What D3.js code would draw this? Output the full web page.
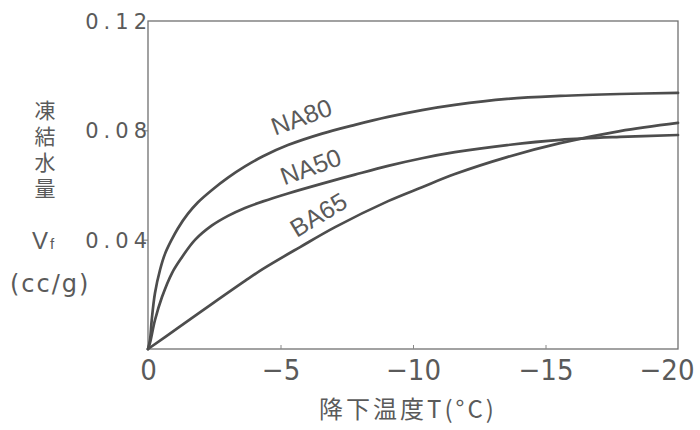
<!DOCTYPE html>
<html><head><meta charset="utf-8">
<script src="https://cdn.jsdelivr.net/npm/d3@7"></script>
<style>body{margin:0;background:#fff}svg{display:block}</style>
</head><body>
<svg id="c" width="700" height="430"></svg>
<script>
const xTicks = [0, -5, -10, -15, -20];
const xTickLabels = ["0", "\u22125", "\u221210", "\u221215", "\u221220"];
const yTicks = [0.04, 0.08, 0.12];
const yTickLabels = ["0.04", "0.08", "0.12"];
const seriesNames = ["NA80", "NA50", "BA65"];
const na80T = [0, -0.075, -0.14, -0.264, -0.453, -0.642, -0.894, -1.132, -1.509, -1.887, -2.415, -3.019, -3.66, -4.34, -5.28, -6.57, -7.81, -9.06, -10.34, -11.58, -13.55, -15.55, -17.81, -20];
const na80V = [0, 0.0033, 0.0106, 0.0205, 0.0289, 0.0348, 0.0400, 0.0442, 0.0495, 0.0537, 0.0582, 0.0627, 0.0668, 0.0705, 0.0746, 0.0788, 0.0820, 0.0849, 0.0874, 0.0893, 0.0915, 0.0926, 0.0933, 0.0937];
const na50T = [0, -0.075, -0.264, -0.528, -0.906, -1.283, -1.774, -2.415, -3.019, -3.66, -4.34, -5.28, -6.57, -7.81, -9.06, -10.34, -11.58, -13.55, -15.55, -17.81, -20];
const na50V = [0, 0.0022, 0.0106, 0.0190, 0.0278, 0.0336, 0.0399, 0.0452, 0.0487, 0.0516, 0.0540, 0.0569, 0.0605, 0.0638, 0.0670, 0.0698, 0.0720, 0.0746, 0.0765, 0.0776, 0.0783];
const ba65T = [0, -1.132, -2.415, -3.66, -4.34, -5.74, -7.06, -9.06, -10.34, -11.58, -13.55, -15.55, -17.81, -20];
const ba65V = [0, 0.0077, 0.0165, 0.0249, 0.0293, 0.0373, 0.0446, 0.0541, 0.0592, 0.0640, 0.0702, 0.0753, 0.0797, 0.0827];

const svg = d3.select("#c");
const L = 148, R = 678, T = 21, B = 349;
const x = d3.scaleLinear().domain([0, -20]).range([L, R]);
const y = d3.scaleLinear().domain([0, 0.12]).range([B, T]);
const ink = "#4d4d4d", txt = "#5a5a5a";
const fnum = "'Liberation Sans Narrow','DejaVu Sans Condensed','Liberation Sans',sans-serif";

// frame
svg.append("rect").attr("x", L).attr("y", T).attr("width", R - L).attr("height", B - T)
  .attr("fill", "none").attr("stroke", "#707070").attr("stroke-width", 1.3);

// x axis ticks (inside, small)
const xa = svg.append("g").attr("transform", `translate(0,${B})`)
  .call(d3.axisBottom(x).tickValues(xTicks).tickSize(-4).tickPadding(10)
    .tickFormat((d, i) => xTickLabels[i]));
xa.select(".domain").remove();
xa.selectAll("line").attr("stroke", "#888").filter((d, i) => i === 0 || i === xTicks.length - 1).remove();
xa.selectAll("text").attr("font-family", fnum).attr("font-size", 29).attr("fill", txt)
  .attr("dy", "0.72em");
xa.selectAll("text").filter((d, i) => i === xTicks.length - 1).attr("text-anchor", "end").attr("dx", 16);

// y axis ticks (outside, small)
const ya = svg.append("g").attr("transform", `translate(${L},0)`)
  .call(d3.axisLeft(y).tickValues(yTicks).tickSize(6).tickPadding(0)
    .tickFormat((d, i) => yTickLabels[i]));
ya.select(".domain").remove();
ya.selectAll("line").attr("stroke", "#777").filter(d => d === 0.12).remove();
ya.selectAll("text").attr("font-family", "'DejaVu Sans',sans-serif").attr("font-size", 21)
  .attr("fill", txt).attr("letter-spacing", "5px").attr("dy", "0.36em").attr("x", 4);

// curves
const line = d3.line().x(d => x(d[0])).y(d => y(d[1])).curve(d3.curveCatmullRom.alpha(0.5));
const series = [
  na80T.map((t, i) => [t, na80V[i]]),
  na50T.map((t, i) => [t, na50V[i]]),
  ba65T.map((t, i) => [t, ba65V[i]])
];
svg.selectAll("path.s").data(series).join("path").attr("class", "s")
  .attr("d", line).attr("fill", "none").attr("stroke", ink).attr("stroke-width", 2.7)
  .attr("stroke-linecap", "round").attr("stroke-linejoin", "round");

// curve labels (baseline centre in data units, rotation in degrees)
const labPos = [[-5.9, 0.0819, -20], [-6.25, 0.0637, -20], [-6.6, 0.0464, -31]];
svg.selectAll("text.lab").data(seriesNames).join("text").attr("class", "lab")
  .attr("transform", (d, i) => `translate(${x(labPos[i][0])},${y(labPos[i][1])}) rotate(${labPos[i][2]})`)
  .attr("text-anchor", "middle").attr("font-family", "'Liberation Sans',sans-serif")
  .attr("font-size", 25).attr("fill", txt).text(d => d);

// y title (vertical text)
svg.append("text").attr("x", 45).attr("y", 100)
  .attr("style", "writing-mode: vertical-rl; text-orientation: upright;")
  .attr("font-family", "'Noto Sans CJK JP',sans-serif").attr("font-size", 21)
  .attr("letter-spacing", "5px").attr("fill", txt).text("凍結水量");
const vf = svg.append("text").attr("x", 32).attr("y", 249).attr("font-family", "'Liberation Sans',sans-serif")
  .attr("font-size", 24).attr("fill", txt);
vf.append("tspan").text("V");
vf.append("tspan").attr("font-size", 15).attr("dx", 2).text("f");
svg.append("text").attr("x", 10).attr("y", 292).attr("font-family", "'DejaVu Sans',sans-serif")
  .attr("font-size", 24).attr("letter-spacing", "2px").attr("fill", txt).text("(cc/g)");

// x title
svg.append("text").attr("x", 408).attr("y", 418).attr("text-anchor", "middle")
  .attr("font-family", "'Noto Sans CJK JP',sans-serif").attr("font-size", 24)
  .attr("letter-spacing", "3px").attr("fill", txt)
  .text("降下温度T(°C)");
</script>
</body></html>
